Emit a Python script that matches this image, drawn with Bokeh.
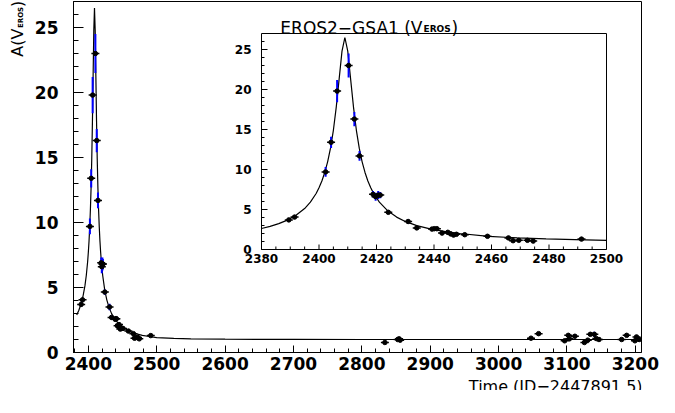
import math
from bokeh.plotting import figure
from bokeh.models import SingleIntervalTicker, Row, Column, Range1d
from bokeh.core.properties import value
from bokeh.embed import file_html
from bokeh.resources import INLINE

# model curve (time, amplification)
curve_t = [2380, 2383, 2386, 2389, 2392, 2395, 2397, 2399, 2400, 2401, 2402, 2403,
           2404, 2405, 2406, 2407, 2408, 2409, 2410, 2411, 2412, 2413, 2414, 2415,
           2416, 2417, 2418, 2419, 2421, 2424, 2427, 2430, 2434, 2439, 2444, 2449,
           2459, 2469, 2479, 2489, 2500, 2525, 2550, 2600, 2650, 2700, 2800, 3000, 3209]
curve_a = [2.62, 2.89, 3.23, 3.67, 4.27, 5.12, 5.92, 7.0, 7.71, 8.56, 9.63, 10.96,
           12.66, 14.9, 17.8, 21.3, 24.8, 26.5, 24.8, 21.3, 17.8, 14.9, 12.66, 10.96,
           9.63, 8.56, 7.71, 7.0, 5.92, 4.80, 4.05, 3.51, 2.99, 2.54, 2.23, 2.00,
           1.65, 1.45, 1.32, 1.23, 1.15, 1.08, 1.05, 1.025, 1.01, 1.005, 1.0, 1.0, 1.0]

# observations
obs_t = [2389.5, 2391.5, 2402.3, 2404.2, 2406.3, 2410.3, 2412.3, 2414.1, 2418.8,
         2419.7, 2420.6, 2421.3, 2424.1, 2431.0, 2434.0, 2439.3, 2440.1, 2441.0,
         2442.8, 2444.8, 2445.8, 2446.8, 2447.8, 2450.7, 2458.6, 2465.9, 2467.5,
         2469.5, 2472.5, 2474.5, 2491.3,
         2833.7, 2852.5, 2854.5, 2856.0, 3047.4, 3058.5, 3096.6, 3101.9, 3103.5,
         3111.6, 3125.5, 3130.4, 3134.2, 3140.0, 3142.9, 3146.8, 3180.0, 3187.3,
         3199.4, 3201.7, 3205.6]
obs_a = [3.7, 4.05, 9.7, 13.4, 19.8, 23.0, 16.3, 11.7, 6.9,
         6.6, 6.8, 6.8, 4.65, 3.5, 2.7, 2.55, 2.6, 2.6,
         2.05, 2.15, 1.95, 1.8, 1.9, 1.85, 1.65, 1.45, 1.1,
         1.15, 1.15, 1.05, 1.3,
         0.77, 1.0, 1.05, 0.95, 1.1, 1.45, 0.9, 1.32, 1.05,
         1.25, 0.77, 0.95, 1.4, 1.4, 1.07, 1.0, 1.0, 1.32,
         0.9, 1.2, 1.0]
obs_err = [0.15, 0.15, 0.6, 0.7, 1.4, 1.5, 0.9, 0.6, 0.4,
           0.5, 0.5, 0.4, 0.2, 0.25, 0.15, 0.12, 0.12, 0.12,
           0.12, 0.12, 0.12, 0.12, 0.12, 0.1, 0.1, 0.1, 0.1,
           0.1, 0.1, 0.1, 0.1,
           0.05, 0.1, 0.1, 0.1, 0.06, 0.1, 0.08, 0.1, 0.1,
           0.15, 0.08, 0.08, 0.12, 0.2, 0.1, 0.08, 0.08, 0.08,
           0.1, 0.15, 0.15]

# inset axis ticks
inset_xticks = [2380, 2400, 2420, 2440, 2460, 2480, 2500]
inset_xminor = [2385, 2390, 2395, 2405, 2410, 2415, 2425, 2430, 2435, 2445, 2450, 2455,
                2465, 2470, 2475, 2485, 2490, 2495]
inset_yticks = [0, 5, 10, 15, 20, 25]
inset_yminor = [1, 2, 3, 4, 6, 7, 8, 9, 11, 12, 13, 14, 16, 17, 18, 19, 21, 22, 23, 24, 26]
inset_xlim = (2380, 2500)
inset_ylim = (0, 27)

x_title = "Time (JD\u22122447891.5)"

err_lo = [a - e for a, e in zip(obs_a, obs_err)]
err_hi = [a + e for a, e in zip(obs_a, obs_err)]

FONT = "DejaVu Sans"

# ---- geometry (pixels) ----
STRIP_W = 30
MAIN_W, MAIN_H = 629, 390
BOT_H = 26
BL, BR, BT, BB = 43, 18, 1, 38
PAGE_X0 = 8 + STRIP_W
FR_L, FR_R = PAGE_X0 + BL, PAGE_X0 + MAIN_W - BR      # 81, 649
FR_T, FR_B = 8 + BT, 8 + MAIN_H - BB                   # 9, 360
IN_L, IN_R, IN_T, IN_B = 269, 614, 41, 257             # inset box on the page

MAIN_X = (2378.3, 3209)
MAIN_Y = (0, 27)

p = figure(width=MAIN_W, height=MAIN_H, x_range=MAIN_X, y_range=MAIN_Y,
           output_backend="svg", toolbar_location=None,
           min_border_left=BL, min_border_right=BR, min_border_top=BT, min_border_bottom=BB)
p.grid.visible = False
p.outline_line_color = "black"
p.xaxis.ticker = SingleIntervalTicker(interval=100, num_minor_ticks=5)
p.yaxis.ticker = SingleIntervalTicker(interval=5, num_minor_ticks=5)
for ax, mj, mn, st in ((p.xaxis, 7, 4, 4), (p.yaxis, 10, 5, 15)):
    ax.axis_line_color = "black"
    ax.major_tick_line_color = "black"
    ax.minor_tick_line_color = "black"
    ax.major_tick_out = 0
    ax.minor_tick_out = 0
    ax.major_tick_in = mj
    ax.minor_tick_in = mn
    ax.major_label_text_font = FONT
    ax.major_label_text_font_style = "bold"
    ax.major_label_text_font_size = "17px"
    ax.major_label_text_color = "black"
    ax.major_label_standoff = st

# inset ranges mapped so that the inset box lands at IN_L..IN_R, IN_T..IN_B
sx = (inset_xlim[1] - inset_xlim[0]) / (IN_R - IN_L)
sy = (inset_ylim[1] - inset_ylim[0]) / (IN_B - IN_T)
p.extra_x_ranges = {"ix": Range1d(inset_xlim[0] - (IN_L - FR_L) * sx,
                                  inset_xlim[1] + (FR_R - IN_R) * sx)}
p.extra_y_ranges = {"iy": Range1d(inset_ylim[0] - (FR_B - IN_B) * sy,
                                  inset_ylim[1] + (IN_T - FR_T) * sy)}


def draw(ct, ca, ot, oa, lo, hi, **kw):
    p.line(ct, ca, line_color="black", line_width=1.2, **kw)
    p.segment(x0=ot, y0=lo, x1=ot, y1=hi, line_color="#0000ff", line_width=2, **kw)
    p.scatter(ot, oa, marker="dash", size=8, line_color="black", line_width=1.5, **kw)
    p.scatter(ot, oa, marker="circle", size=4.5, fill_color="black", line_color="black", **kw)


# main data
draw(curve_t[1:], curve_a[1:], obs_t, obs_a, err_lo, err_hi)

# inset data (points inside the inset window)
ci = [i for i, t in enumerate(curve_t) if inset_xlim[0] <= t <= inset_xlim[1]]
oi = [i for i, t in enumerate(obs_t) if inset_xlim[0] <= t <= inset_xlim[1]]
IK = dict(x_range_name="ix", y_range_name="iy")
p.quad(left=[inset_xlim[0]], right=[inset_xlim[1]], bottom=[inset_ylim[0]], top=[inset_ylim[1]],
       fill_color="white", line_color="black", line_width=1, **IK)
draw([curve_t[i] for i in ci], [curve_a[i] for i in ci],
     [obs_t[i] for i in oi], [obs_a[i] for i in oi],
     [err_lo[i] for i in oi], [err_hi[i] for i in oi], **IK)

# inset axes
xt_major = 5 * sy
xt_minor = 3 * sy
yt_major = 6 * sx
yt_minor = 3 * sx
y0 = inset_ylim[0]
x0 = inset_xlim[0]
p.segment(x0=inset_xticks, y0=[y0] * len(inset_xticks), x1=inset_xticks,
          y1=[y0 + xt_major] * len(inset_xticks), line_color="black", **IK)
p.segment(x0=inset_xminor, y0=[y0] * len(inset_xminor), x1=inset_xminor,
          y1=[y0 + xt_minor] * len(inset_xminor), line_color="black", **IK)
p.segment(x0=[x0] * len(inset_yticks), y0=inset_yticks, x1=[x0 + yt_major] * len(inset_yticks),
          y1=inset_yticks, line_color="black", **IK)
p.segment(x0=[x0] * len(inset_yminor), y0=inset_yminor, x1=[x0 + yt_minor] * len(inset_yminor),
          y1=inset_yminor, line_color="black", **IK)
p.text(x=inset_xticks, y=[y0] * len(inset_xticks), text=[str(v) for v in inset_xticks],
       text_font=value(FONT), text_font_style="bold", text_font_size="12px",
       text_align="center", text_baseline="top", y_offset=4, text_color="black", **IK)
p.text(x=[x0] * len(inset_yticks), y=inset_yticks, text=[str(v) for v in inset_yticks],
       text_font=value(FONT), text_font_style="bold", text_font_size="12px",
       text_align="right", text_baseline="middle", x_offset=-10, text_color="black", **IK)

# inset title: pieces joined at the end of "(V"
ytop = inset_ylim[1]
J = 161  # junction offset from the inset's left edge, px
p.text(x=[x0], y=[ytop], text=["EROS2\u2212GSA1 (V"], text_font=value(FONT), text_font_size="17px",
       text_align="right", text_baseline="alphabetic", x_offset=J, y_offset=-6,
       text_color="black", **IK)
p.text(x=[x0], y=[ytop], text=["EROS"], text_font=value(FONT), text_font_size="9px",
       text_font_style="bold", text_align="left", text_baseline="alphabetic",
       x_offset=J + 1, y_offset=-5, text_color="black", **IK)
p.text(x=[x0], y=[ytop], text=[")"], text_font=value(FONT), text_font_size="17px",
       text_align="left", text_baseline="alphabetic", x_offset=J + 29, y_offset=-6,
       text_color="black", **IK)

# left strip carrying the rotated y-axis title (data units = pixels)
s = figure(width=STRIP_W, height=MAIN_H, x_range=(0, STRIP_W), y_range=(0, MAIN_H),
           output_backend="svg", toolbar_location=None, x_axis_type=None, y_axis_type=None,
           min_border_left=0, min_border_right=0, min_border_top=0, min_border_bottom=0)
s.outline_line_color = None
s.grid.visible = False
YJ = 8 + MAIN_H - 36   # junction between "V" and the subscript (page y = 36)
s.text(x=[17], y=[YJ], text=["A(V"], angle=math.pi / 2, text_font=value(FONT),
       text_font_size="16px", text_align="right", text_baseline="alphabetic", text_color="black")
s.text(x=[20], y=[YJ + 0.5], text=["EROS"], angle=math.pi / 2, text_font=value(FONT),
       text_font_size="7px", text_font_style="bold", text_align="left", text_baseline="alphabetic",
       text_color="black")
s.text(x=[17], y=[YJ + 21.5], text=[")"], angle=math.pi / 2, text_font=value(FONT),
       text_font_size="16px", text_align="left", text_baseline="alphabetic", text_color="black")

# bottom strip carrying the x-axis title, pulled up over the main plot's lower border
b = figure(width=MAIN_W, height=BOT_H, x_range=(0, MAIN_W), y_range=(0, BOT_H),
           output_backend="svg", toolbar_location=None, x_axis_type=None, y_axis_type=None,
           min_border_left=0, min_border_right=0, min_border_top=0, min_border_bottom=0,
           margin=(-BOT_H, 0, 0, 0))
b.outline_line_color = None
b.background_fill_color = None
b.border_fill_color = None
b.grid.visible = False
b.text(x=[572 - PAGE_X0], y=[4.0], text=[x_title], text_font=value(FONT),
       text_font_size="16px", text_align="center", text_baseline="alphabetic", text_color="black")

layout = Row(children=[s, Column(children=[p, b])])
open("out.html", "w").write(file_html(layout, INLINE))
